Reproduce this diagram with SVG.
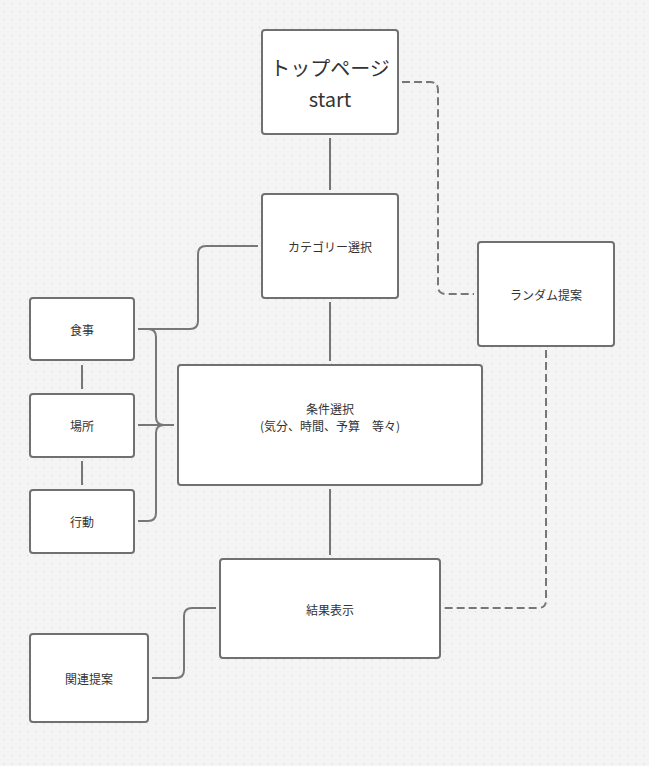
<svg xmlns="http://www.w3.org/2000/svg" width="649" height="766" viewBox="0 0 649 766">
<defs>
<pattern id="dots" x="0" y="0" width="8" height="8" patternUnits="userSpaceOnUse">
<rect x="3" y="3" width="1.2" height="1.2" fill="#dcdcdc"/>
</pattern>
</defs>
<style>
.box{fill:#ffffff;stroke:#707070;stroke-width:2}
.lbl{font-family:"Noto Sans CJK JP","Noto Sans",sans-serif;font-size:12px;fill:#333;text-anchor:middle;dominant-baseline:central}
.big{font-size:20px}
.con{fill:none;stroke:#777;stroke-width:2}
.dash{stroke-dasharray:8 4}
</style>
<rect width="649" height="766" fill="#f4f4f4"/>
<rect width="649" height="766" fill="url(#dots)"/>
<g id="connectors">
<path class="con" d="M330 138V190"/>
<path class="con dash" d="M402 82H430Q438 82 438 90V286Q438 294 446 294H474"/>
<path class="con" d="M258 246H206Q198 246 198 254V321Q198 329 190 329H138"/>
<path class="con" d="M330 302V361"/>
<path class="con" d="M138 329H148Q156 329 156 337V417Q156 425 164 425H174"/>
<path class="con" d="M138 425H174"/>
<path class="con" d="M138 521H148Q156 521 156 513V433Q156 425 164 425"/>
<path class="con" d="M82 365V389"/>
<path class="con" d="M82 461V485"/>
<path class="con" d="M330 489V555"/>
<path class="con" d="M216 608H192Q184 608 184 616V670Q184 678 176 678H152"/>
<path class="con dash" d="M546 350V600Q546 608 538 608H444"/>
</g>
<g id="top"><rect class="box" x="262" y="30" width="136" height="104" rx="3"/><text class="lbl big" x="330" y="67">トップページ</text><text class="lbl big" x="330" y="98">start</text></g>
<g id="category"><rect class="box" x="262" y="194" width="136" height="104" rx="3"/><text class="lbl" x="330" y="246">カテゴリー選択</text></g>
<g id="random"><rect class="box" x="478" y="242" width="136" height="104" rx="3"/><text class="lbl" x="546" y="294">ランダム提案</text></g>
<g id="meal"><rect class="box" x="30" y="298" width="104" height="62" rx="3"/><text class="lbl" x="82" y="329">食事</text></g>
<g id="place"><rect class="box" x="30" y="394" width="104" height="63" rx="3"/><text class="lbl" x="82" y="425">場所</text></g>
<g id="action"><rect class="box" x="30" y="490" width="104" height="63" rx="3"/><text class="lbl" x="82" y="521">行動</text></g>
<g id="condition"><rect class="box" x="178" y="365" width="304" height="120" rx="3"/><text class="lbl" x="330" y="408">条件選択</text><text class="lbl" x="330" y="425" xml:space="preserve">(気分、時間、予算　等々)</text></g>
<g id="result"><rect class="box" x="220" y="559" width="220" height="99" rx="3"/><text class="lbl" x="330" y="609">結果表示</text></g>
<g id="related"><rect class="box" x="30" y="634" width="118" height="88" rx="3"/><text class="lbl" x="89" y="678">関連提案</text></g>
</svg>
